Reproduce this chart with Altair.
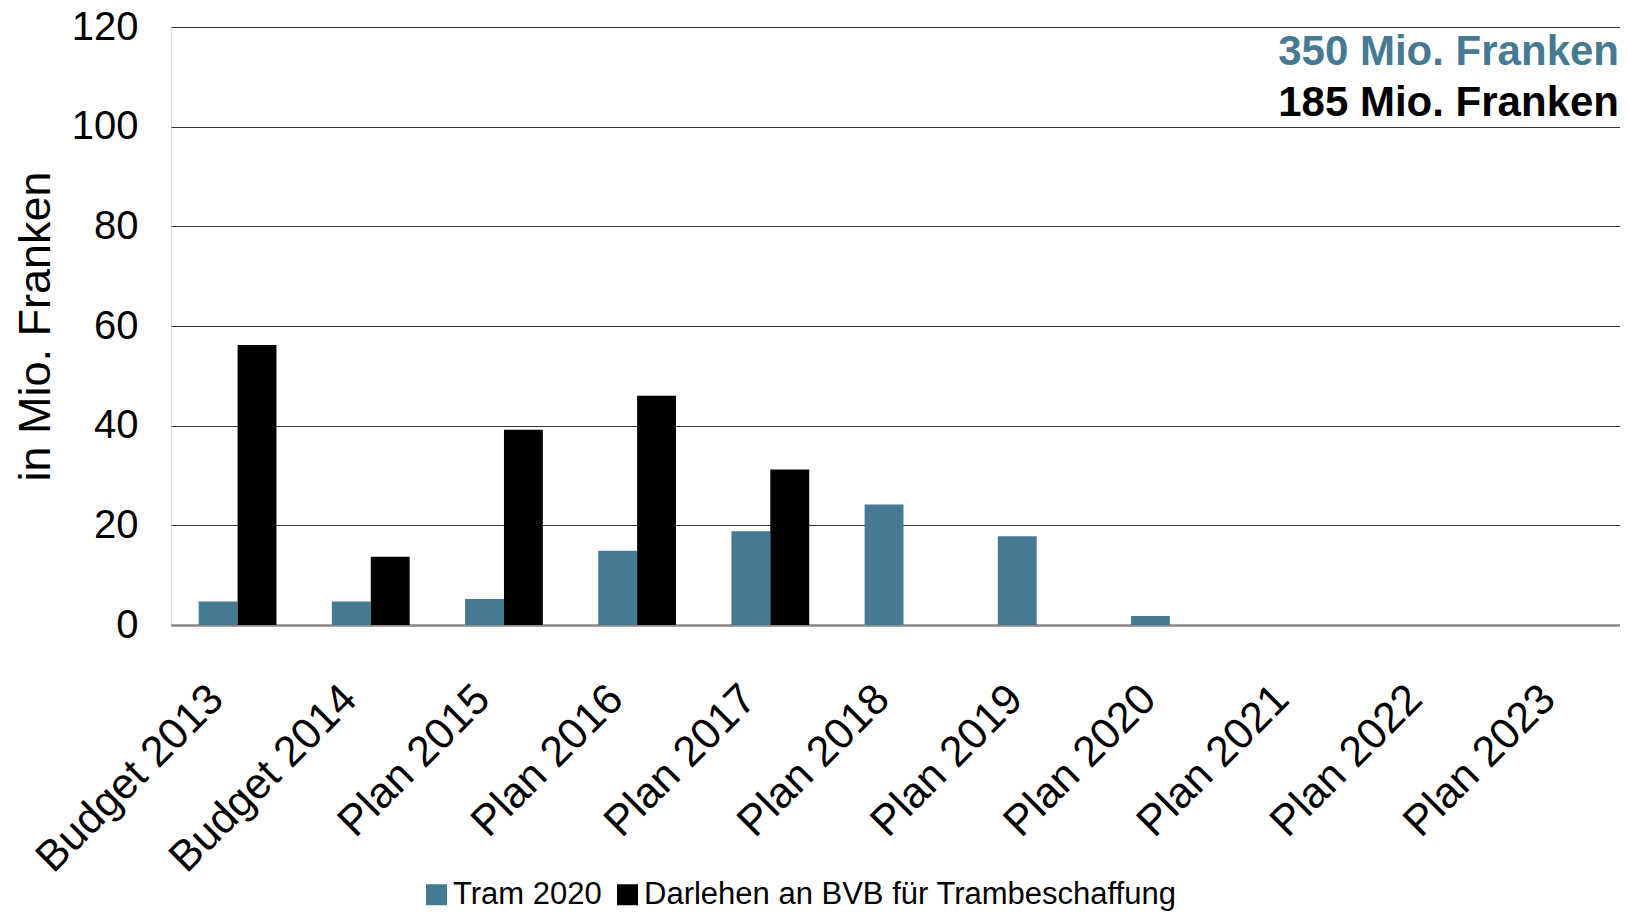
import altair as alt
import pandas as pd

categories = ["Budget 2013", "Budget 2014", "Plan 2015", "Plan 2016", "Plan 2017",
              "Plan 2018", "Plan 2019", "Plan 2020", "Plan 2021", "Plan 2022", "Plan 2023"]
series = ["Tram 2020", "Darlehen an BVB für Trambeschaffung"]
tram = [4.7, 4.7, 5.2, 14.9, 18.8, 24.2, 17.8, 1.8, None, None, None]
darlehen = [56.2, 13.7, 39.2, 46.0, 31.2, None, None, None, None, None, None]
colors = ["#467a92", "#000000"]
y_ticks = [0, 20, 40, 60, 80, 100, 120]
notes = ["350 Mio. Franken", "185 Mio. Franken"]

rows = []
for c, t, d in zip(categories, tram, darlehen):
    if t is not None:
        rows.append({"cat": c, "series": series[0], "value": t})
    if d is not None:
        rows.append({"cat": c, "series": series[1], "value": d})
df = pd.DataFrame(rows)

FONT = "Liberation Sans"
W, H = 1449, 598
XRANGE = 1465  # the original plot runs a little past the right edge of the picture

bars = alt.Chart(df).mark_bar(strokeWidth=0).encode(
    x=alt.X("cat:N", sort=categories,
            scale=alt.Scale(domain=categories, range=[0, XRANGE], paddingInner=0.416, paddingOuter=0.208),
            axis=alt.Axis(title=None, labelAngle=-45, labelAlign="right", labelBaseline="middle",
                          labelFontSize=43, labelFont=FONT, labelColor="#000", labelPadding=67,
                          labelOffset=-21, labelOverlap=False, labelLimit=500, ticks=False, tickSize=0,
                          domainColor="#888888", domainWidth=2.5, grid=False)),
    xOffset=alt.XOffset("series:N", sort=series, scale=alt.Scale(domain=series, paddingInner=0, paddingOuter=0)),
    y=alt.Y("value:Q", scale=alt.Scale(domain=[0, 120], nice=False),
            axis=alt.Axis(values=y_ticks, title="in Mio. Franken", titleFontSize=45, titleFont=FONT,
                          titleFontWeight="normal", titleColor="#000", titlePadding=13,
                          labelFontSize=40, labelFont=FONT, labelColor="#000", labelPadding=33,
                          ticks=False, tickSize=0, domain=False, grid=True, gridColor="#333333", gridWidth=1)),
    color=alt.Color("series:N", sort=series, scale=alt.Scale(domain=series, range=colors),
                    legend=alt.Legend(title=None, orient="none", legendX=250, legendY=852, direction="horizontal",
                                      symbolType="square", symbolSize=441, symbolStrokeWidth=0,
                                      labelFontSize=31, labelFont=FONT, labelColor="#000", labelOffset=1,
                                      columnPadding=10, padding=0, labelLimit=800)),
)

note_df = pd.DataFrame({"note": notes, "row": [0, 1]})
note1 = alt.Chart(note_df[note_df.row == 0]).mark_text(
    align="right", baseline="alphabetic", font=FONT, fontSize=42, fontWeight="bold", color=colors[0]
).encode(text="note:N", x=alt.value(W - 1), y=alt.value(38))
note2 = alt.Chart(note_df[note_df.row == 1]).mark_text(
    align="right", baseline="alphabetic", font=FONT, fontSize=42, fontWeight="bold", color=colors[1]
).encode(text="note:N", x=alt.value(W - 1), y=alt.value(89))

chart = alt.layer(bars, note1, note2).properties(
    width=W, height=H,
    padding={"left": 163, "top": 19, "right": 0, "bottom": 287},
    autosize=alt.AutoSizeParams(type="none"),
).configure_view(stroke=None).configure(background="white")

chart.save("out.html", embed_options={"renderer": "svg", "actions": False})
